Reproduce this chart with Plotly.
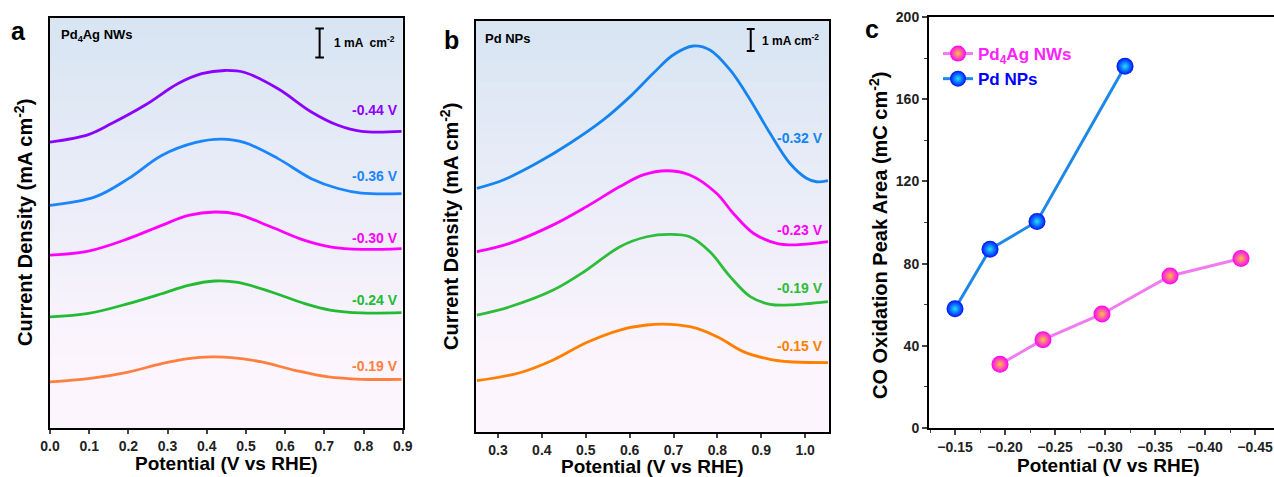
import plotly.graph_objects as go

W, H = 1274, 477
FONT = "Arial, Liberation Sans, sans-serif"

# ---------------- Panel a : Pd4Ag NWs (offset CO-stripping curves, mA cm-2) -------------
a_labels = ["-0.44 V", "-0.36 V", "-0.30 V", "-0.24 V", "-0.19 V"]
a_colors = ["#8c00ff", "#1a85ff", "#ff00ff", "#22bb33", "#ff7f40"]
a_x_044 = [0.0, 0.098, 0.157, 0.242, 0.327, 0.387, 0.446, 0.497, 0.582, 0.667, 0.735, 0.795, 0.897]
a_y_044 = [9.87, 10.13, 10.51, 11.14, 11.89, 12.23, 12.34, 12.27, 11.71, 10.91, 10.45, 10.24, 10.24]
a_x_036 = [0.0, 0.115, 0.2, 0.285, 0.37, 0.438, 0.497, 0.582, 0.667, 0.735, 0.795, 0.897]
a_y_036 = [7.69, 7.98, 8.61, 9.41, 9.85, 9.97, 9.85, 9.30, 8.61, 8.27, 8.11, 8.09]
a_x_030 = [0.0, 0.098, 0.2, 0.285, 0.353, 0.421, 0.48, 0.565, 0.65, 0.718, 0.795, 0.897]
a_y_030 = [5.97, 6.11, 6.54, 7.00, 7.34, 7.46, 7.38, 6.94, 6.48, 6.25, 6.17, 6.20]
a_x_024 = [0.0, 0.098, 0.2, 0.285, 0.353, 0.421, 0.48, 0.565, 0.65, 0.718, 0.795, 0.897]
a_y_024 = [3.84, 3.96, 4.30, 4.64, 4.93, 5.08, 5.03, 4.70, 4.30, 4.07, 3.98, 3.99]
a_x_019 = [0.0, 0.098, 0.2, 0.285, 0.353, 0.412, 0.463, 0.54, 0.625, 0.71, 0.795, 0.897]
a_y_019 = [1.60, 1.71, 1.94, 2.23, 2.40, 2.46, 2.44, 2.29, 2.00, 1.77, 1.69, 1.69]
a_label_y = [10.97, 8.70, 6.55, 4.41, 2.14]

# ---------------- Panel b : Pd NPs -------------
b_labels = ["-0.32 V", "-0.23 V", "-0.19 V", "-0.15 V"]
b_colors = ["#1584f0", "#ff00ff", "#2ebd3b", "#ff8000"]
b_x_032 = [0.252, 0.312, 0.388, 0.464, 0.540, 0.601, 0.654, 0.699, 0.745, 0.783, 0.829, 0.875, 0.920, 0.965, 1.003, 1.026, 1.052]
b_y_032 = [11.06, 11.44, 12.20, 13.11, 14.17, 15.23, 16.29, 17.12, 17.53, 17.35, 16.44, 15.08, 13.56, 12.20, 11.52, 11.36, 11.41]
b_x_023 = [0.252, 0.327, 0.426, 0.502, 0.578, 0.631, 0.684, 0.737, 0.798, 0.836, 0.882, 0.935, 0.973, 1.052]
b_y_023 = [8.18, 8.56, 9.40, 10.23, 11.14, 11.67, 11.86, 11.67, 10.84, 9.93, 9.02, 8.56, 8.49, 8.64]
b_x_019 = [0.252, 0.327, 0.426, 0.502, 0.578, 0.639, 0.692, 0.737, 0.783, 0.829, 0.875, 0.920, 0.965, 1.052]
b_y_019 = [5.30, 5.68, 6.44, 7.35, 8.41, 8.86, 8.97, 8.86, 8.18, 7.05, 6.14, 5.79, 5.76, 5.91]
b_x_015 = [0.252, 0.350, 0.426, 0.502, 0.578, 0.639, 0.692, 0.753, 0.806, 0.859, 0.920, 0.965, 1.052]
b_y_015 = [2.32, 2.68, 3.26, 4.05, 4.62, 4.85, 4.88, 4.70, 4.25, 3.64, 3.29, 3.18, 3.14]
b_label_y = [13.34, 9.17, 6.52, 3.90]

# ---------------- Panel c : CO oxidation peak area -------------
c_pdag_x = [-0.195, -0.238, -0.297, -0.365, -0.436]
c_pdag_y = [31.0, 43.0, 55.5, 74.0, 82.5]
c_pd_x = [-0.150, -0.185, -0.232, -0.320]
c_pd_y = [58.0, 87.0, 100.5, 176.0]
c_yticks = [0, 40, 80, 120, 160, 200]
c_xticks = [-0.15, -0.20, -0.25, -0.30, -0.35, -0.40, -0.45]

fig = go.Figure()

a_x = [a_x_044, a_x_036, a_x_030, a_x_024, a_x_019]
a_y = [a_y_044, a_y_036, a_y_030, a_y_024, a_y_019]
for xs, ys, c, lab in zip(a_x, a_y, a_colors, a_labels):
    fig.add_trace(go.Scatter(x=xs, y=ys, mode="lines", line=dict(color=c, width=2.8, shape="spline", smoothing=1.0),
                             showlegend=False, name=lab, xaxis="x", yaxis="y"))

b_x = [b_x_032, b_x_023, b_x_019, b_x_015]
b_y = [b_y_032, b_y_023, b_y_019, b_y_015]
for xs, ys, c, lab in zip(b_x, b_y, b_colors, b_labels):
    fig.add_trace(go.Scatter(x=xs, y=ys, mode="lines", line=dict(color=c, width=2.8, shape="spline", smoothing=1.0),
                             showlegend=False, name=lab, xaxis="x2", yaxis="y2"))

fig.add_trace(go.Scatter(x=c_pdag_x, y=c_pdag_y, mode="lines+markers",
                         name="<span style='color:#ff22ff'>Pd<sub>4</sub>Ag NWs</span>",
                         line=dict(color="#f07cf0", width=3),
                         marker=dict(size=17, color="#ff00ff", gradient=dict(type="radial", color="#ffc040"),
                                     line=dict(width=0)),
                         xaxis="x3", yaxis="y3"))
fig.add_trace(go.Scatter(x=c_pd_x, y=c_pd_y, mode="lines+markers",
                         name="<span style='color:#0000ff'>Pd NPs</span>",
                         line=dict(color="#1e88e8", width=3),
                         marker=dict(size=17, color="#0010ff", gradient=dict(type="radial", color="#20e0ff"),
                                     line=dict(width=0)),
                         xaxis="x3", yaxis="y3"))

def px_x(p):
    return p / W

def px_y(p):
    return 1 - p / H

tickfont = dict(family=FONT, size=14, color="#222", weight="bold")
frame = dict(showline=True, linecolor="black", linewidth=2, mirror=True, showgrid=False, zeroline=False,
             automargin=False)

a_dom_x = [px_x(50), px_x(402.7)]
a_dom_y = [px_y(428.3), px_y(18.3)]
b_dom_x = [px_x(476), px_x(829.3)]
b_dom_y = [px_y(431.7), px_y(20.7)]
c_dom_x = [px_x(929), 1.0]
c_dom_y = [px_y(428), px_y(17)]

fig.update_layout(
    width=W, height=H, margin=dict(l=0, r=0, t=0, b=0, autoexpand=False),
    paper_bgcolor="white", plot_bgcolor="rgba(0,0,0,0)",
    font=dict(family=FONT, color="black"),
    xaxis=dict(domain=a_dom_x, range=[0, 0.9], tickvals=[0, .1, .2, .3, .4, .5, .6, .7, .8, .9], tickformat=".1f",
               ticks="outside", ticklen=4, tickwidth=1.5, tickfont=tickfont, anchor="y", **frame),
    yaxis=dict(domain=a_dom_y, range=[0, 14.14], showticklabels=False, ticks="", anchor="x", **frame),
    xaxis2=dict(domain=b_dom_x, range=[0.25, 1.055], tickvals=[.3, .4, .5, .6, .7, .8, .9, 1.0], tickformat=".1f",
                ticks="outside", ticklen=4, tickwidth=1.5, tickfont=tickfont, anchor="y2", **frame),
    yaxis2=dict(domain=b_dom_y, range=[0, 18.68], showticklabels=False, ticks="", anchor="x2", **frame),
    xaxis3=dict(domain=c_dom_x, range=[-0.124, -0.469], tickvals=c_xticks, tickformat=".2f",
                ticks="outside", ticklen=5, tickwidth=1.5, tickfont=tickfont, anchor="y3",
                showline=True, linecolor="black", linewidth=2, mirror=True, showgrid=False, zeroline=False,
                automargin=False,
                minor=dict(ticks="outside", ticklen=3, tickwidth=1.2, dtick=0.025, tick0=-0.15)),
    yaxis3=dict(domain=c_dom_y, range=[0, 200], tickvals=c_yticks,
                ticks="outside", ticklen=5, tickwidth=1.5, tickfont=tickfont, anchor="x3",
                showline=True, linecolor="black", linewidth=2, mirror=False, showgrid=False, zeroline=False,
                automargin=False,
                minor=dict(ticks="outside", ticklen=3, tickwidth=1.2, dtick=20)),
    legend=dict(x=px_x(938), y=px_y(36), xanchor="left", yanchor="top", bgcolor="rgba(0,0,0,0)",
                font=dict(family=FONT, size=17, weight="bold"), itemwidth=30, tracegroupgap=2),
)

# gradient backgrounds for panels a and b
def lerp(c1, c2, t):
    return "rgb(%d,%d,%d)" % tuple(round(c1[i] + (c2[i] - c1[i]) * t) for i in range(3))

top_c = (216, 229, 243)
bot_c = (253, 245, 253)
n = 40
shapes = []
for xr, yr in [("x", "y"), ("x2", "y2")]:
    for i in range(n):
        t = i / (n - 1)
        col = lerp(top_c, bot_c, min(1, t * 1.15))
        shapes.append(dict(type="rect", xref=xr + " domain", yref=yr + " domain",
                           x0=0, x1=1, y0=1 - (i + 1) / n, y1=1 - i / n + 0.002,
                           fillcolor=col, line=dict(width=0), layer="below"))

# scale bars
def scalebar(xr, yr, xc, y0, y1, cap):
    return [dict(type="line", xref=xr, yref=yr, x0=xc, x1=xc, y0=y0, y1=y1, line=dict(color="black", width=2)),
            dict(type="line", xref=xr, yref=yr, x0=xc - cap, x1=xc + cap, y0=y0, y1=y0, line=dict(color="black", width=2)),
            dict(type="line", xref=xr, yref=yr, x0=xc - cap, x1=xc + cap, y0=y1, y1=y1, line=dict(color="black", width=2))]

shapes += scalebar("x", "y", 0.688, 12.79, 13.79, 0.011)
shapes += scalebar("x2", "y2", 0.876, 17.30, 18.30, 0.009)
fig.update_layout(shapes=shapes)

ann = []
for lab, c, yv in zip(a_labels, a_colors, a_label_y):
    ann.append(dict(x=0.893, y=yv, xref="x", yref="y", text=lab, showarrow=False, xanchor="right",
                    font=dict(family=FONT, size=14, color=c, weight="bold")))
for lab, c, yv in zip(b_labels, b_colors, b_label_y):
    ann.append(dict(x=1.045, y=yv, xref="x2", yref="y2", text=lab, showarrow=False, xanchor="right",
                    font=dict(family=FONT, size=14, color=c, weight="bold")))

def pa(x, y, text, size, angle=0, xanchor="center", color="black"):
    return dict(x=px_x(x), y=px_y(y), xref="paper", yref="paper", text=text, showarrow=False,
                xanchor=xanchor, yanchor="middle", textangle=angle,
                font=dict(family=FONT, size=size, color=color, weight="bold"))

ann += [
    pa(18, 31, "a", 25), pa(451, 40, "b", 25), pa(872, 29, "c", 25),
    pa(59, 36, "Pd<sub>4</sub>Ag NWs", 13, xanchor="left"),
    pa(332, 42, "1 mA  cm<sup>-2</sup>", 12, xanchor="left"),
    pa(483, 38, "Pd NPs", 13, xanchor="left"),
    pa(760, 40, "1 mA cm<sup>-2</sup>", 12, xanchor="left"),
    pa(23, 223, "Current Density (mA cm<sup>-2</sup>)", 20, angle=-90),
    pa(449, 226, "Current Density (mA cm<sup>-2</sup>)", 20, angle=-90),
    pa(879, 236, "CO Oxidation Peak Area (mC cm<sup>-2</sup>)", 20, angle=-90),
    pa(226, 463, "Potential (V vs RHE)", 19),
    pa(652, 466, "Potential (V vs RHE)", 19),
    pa(1108, 465, "Potential (V vs RHE)", 19),
]
fig.update_layout(annotations=ann)

fig.write_html("out.html", config={"displayModeBar": False},
               post_script="document.body.style.margin='0';document.body.style.overflow='hidden';")
